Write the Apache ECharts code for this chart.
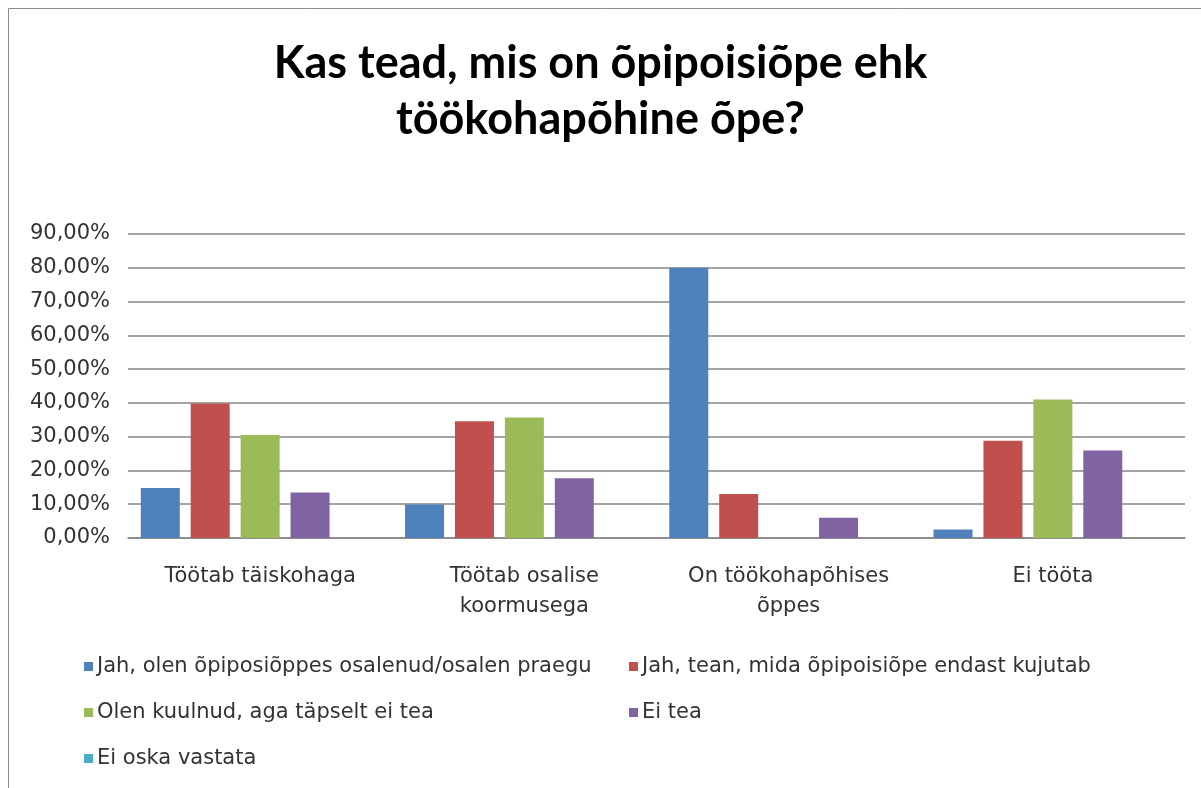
<!DOCTYPE html>
<html>
<head>
<meta charset="utf-8">
<script src="https://cdn.jsdelivr.net/npm/echarts@6/dist/echarts.min.js"></script>
<style>
  html, body { margin: 0; padding: 0; background: #fff; }
  #chart { width: 1201px; height: 788px; }
</style>
</head>
<body>
<div id="chart"></div>
<script>
// categories and series values (percent)
const categories = ['Töötab täiskohaga', 'Töötab osalise\nkoormusega', 'On töökohapõhises\nõppes', 'Ei tööta'];
const seriesNames = [
  'Jah, olen õpiposiõppes osalenud/osalen praegu',
  'Jah, tean, mida õpipoisiõpe endast kujutab',
  'Olen kuulnud, aga täpselt ei tea',
  'Ei tea',
  'Ei oska vastata'
];
const osalenud = [14.8, 9.9, 80.0, 2.5];
const tean = [39.8, 34.6, 13.0, 28.8];
const kuulnud = [30.5, 35.7, 0, 41.0];
const eiTea = [13.5, 17.7, 6.0, 25.9];
const eiOska = [0, 0, 0, 0];
const colors = ['#4F81BD', '#C0504D', '#9BBB59', '#8064A2', '#4BACC6'];

const chart = echarts.init(document.getElementById('chart'));
const values = [osalenud, tean, kuulnud, eiTea, eiOska];
const font = '"DejaVu Sans", sans-serif';
const textColor = '#333333';

chart.setOption({
  animation: false,
  color: colors,
  title: {
    text: 'Kas tead, mis on õpipoisiõpe ehk\ntöökohapõhine õpe?',
    left: 'center',
    top: 30,
    textStyle: { fontFamily: 'Lato, sans-serif', fontSize: 45, fontWeight: 'bold', color: '#000', lineHeight: 56 }
  },
  graphic: [{
    type: 'rect',
    shape: { x: 8.5, y: 8.5, width: 1300, height: 900 },
    style: { fill: 'none', stroke: '#8c8c8c', lineWidth: 1 }
  }],
  legend: [
    {
      left: 79, top: 651, orient: 'vertical', itemGap: 25,
      itemWidth: 9, itemHeight: 9, icon: 'rect',
      data: [seriesNames[0], seriesNames[2], seriesNames[4]],
      textStyle: { fontFamily: font, fontSize: 21, color: textColor, padding: [0, 0, 0, -1] }
    },
    {
      left: 624, top: 651, orient: 'vertical', itemGap: 25,
      itemWidth: 9, itemHeight: 9, icon: 'rect',
      data: [seriesNames[1], seriesNames[3]],
      textStyle: { fontFamily: font, fontSize: 21, color: textColor, padding: [0, 0, 0, -1] }
    }
  ],
  grid: { left: 128, right: 16, top: 234, bottom: 250, containLabel: false },
  xAxis: {
    type: 'category',
    data: categories,
    axisTick: { show: false },
    axisLine: { lineStyle: { color: '#868686', width: 1.5 } },
    axisLabel: { fontFamily: font, fontSize: 21, color: textColor, margin: 24, lineHeight: 30, interval: 0 }
  },
  yAxis: {
    type: 'value',
    min: 0, max: 90, interval: 10,
    axisLine: { show: false },
    axisTick: { show: false },
    splitLine: { lineStyle: { color: '#868686', width: 1.5 } },
    axisLabel: {
      fontFamily: font, fontSize: 21, color: textColor, margin: 18,
      formatter: v => v.toFixed(2).replace('.', ',') + '%'
    }
  },
  series: seriesNames.map((name, i) => ({
    name: name,
    type: 'bar',
    data: values[i],
    barWidth: 39,
    barGap: '28%',
    itemStyle: { color: colors[i] }
  }))
});
</script>
</body>
</html>
